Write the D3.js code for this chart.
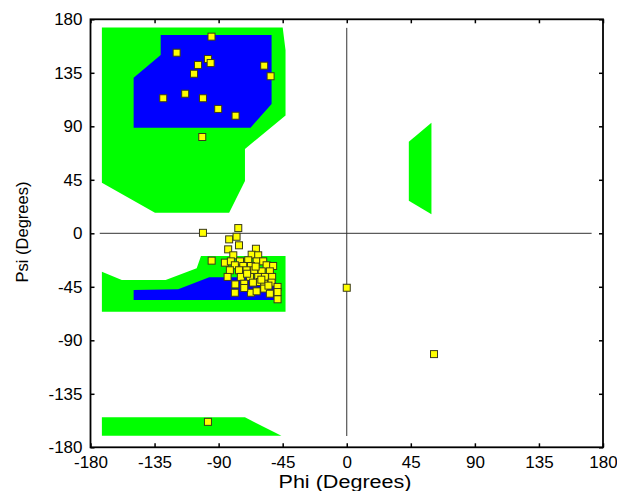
<!DOCTYPE html>
<html><head><meta charset="utf-8">
<script src="https://cdn.jsdelivr.net/npm/d3@7"></script>
<style>body{margin:0;background:#fff}svg{display:block}text{font-family:"Liberation Sans",Arial,sans-serif;fill:#000}</style>
</head><body><svg id="c" width="617" height="491"></svg>
<script>
const tickValues = [-180,-135,-90,-45,0,45,90,135,180];
const xLabel = "Phi (Degrees)";
const yLabel = "Psi (Degrees)";

// Allowed regions [phi, psi]
const greenTop = [[-172,173],[-45,173],[-43,154],[-43,99],[-71.5,71],[-71.5,44],[-82.6,17.3],[-134.7,17.3],[-172,42.6]];
const blueTop = [[-130.7,166.8],[-52.8,166.8],[-52.8,108.8],[-67.6,88.8],[-149.7,88.8],[-149.7,130.9],[-130.7,150]];
const greenRight = [[43.6,77],[59.5,93],[59.5,16],[43.6,27.4]];
const greenMid = [[-102.4,-19.1],[-43,-19.1],[-43,-65.9],[-172,-65.9],[-172,-32.3],[-158,-39.3],[-127.2,-39.3],[-105.4,-29.4]];
const blueMid = [[-149.7,-47.7],[-118.4,-47.1],[-96.6,-37],[-52,-37],[-48,-45],[-48,-56],[-149.7,-56]];
const greenBottom = [[-172,-154.8],[-71.5,-154.8],[-45.9,-170.2],[-172,-170.2]];

// Residues [phi, psi]
const residues = [
 [-95,165.4],[-119.5,151.9],[-97.5,146.6],[-95.6,143.2],[-104.5,141.6],[-107.3,134.2],[-58,141],[-53.5,132.1],
 [-128.9,113.6],[-113.5,117.4],[-101,113.6],[-90.3,104.6],[-78.1,98.9],[-101.5,81],
 [-101,0.4],[0,-45.8],[61.3,-101.6],[-97.5,-158.6],[-94.9,-23],
 [-76.2,4.4],[-82.6,-5.1],[-77.4,-2.9],[-75.7,-10.1],[-83.3,-13.5],[-63.8,-13],[-79.7,-18.5],[-66.8,-18],[-62.2,-18.5],
 [-85.6,-24.7],[-81.4,-23.6],[-75,-23.6],[-69.2,-22.7],[-63.3,-23.6],[-58.7,-23.6],
 [-78.6,-26.9],[-72.7,-27.5],[-67.3,-27.5],[-56.3,-26.9],[-51.7,-27.5],
 [-82.1,-31.1],[-75.7,-31.1],[-70.4,-31.1],[-65,-31.1],[-59.8,-32],[-54,-32],
 [-83.7,-36.7],[-74.4,-36.7],[-68,-36.7],[-62.2,-36.7],[-57.5,-36.7],[-52.4,-36.7],
 [-78.3,-43],[-72,-42.4],[-65.8,-41.5],[-61,-41],[-58,-42.4],[-52.8,-41.5],[-48.6,-45.1],
 [-78.6,-50],[-67.3,-50],[-63.3,-48.8],[-58,-46.5],[-54,-50.8],[-48.6,-49.4],[-48.6,-55.5],
 [-70,-34],[-64,-28],[-60,-39],[-72,-46],[-55,-44]
];

const L=90.5,R=603,T=19.3,B=447.3;
const x=d3.scaleLinear().domain([-180,180]).range([L,R]);
const y=d3.scaleLinear().domain([-180,180]).range([B,T]);
const svg=d3.select("#c");
const line=d3.line().x(d=>x(d[0])).y(d=>y(d[1])).curve(d3.curveLinearClosed);

const regions=[[greenTop,"#00ff00"],[blueTop,"#0000ff"],[greenRight,"#00ff00"],[greenMid,"#00ff00"],[blueMid,"#0000ff"],[greenBottom,"#00ff00"]];
svg.append("g").selectAll("path").data(regions).join("path").attr("d",d=>line(d[0])).attr("fill",d=>d[1]);

// zero lines
svg.append("line").attr("x1",x(-173.5)).attr("x2",x(172)).attr("y1",y(0)).attr("y2",y(0)).attr("stroke","#333").attr("stroke-width",1);
svg.append("line").attr("x1",x(0)).attr("x2",x(0)).attr("y1",y(172.8)).attr("y2",y(-170.5)).attr("stroke","#333").attr("stroke-width",1);

// axes
const fmt=d=>String(d).replace("-","-");
svg.append("g").attr("transform",`translate(0,${B})`).call(d3.axisBottom(x).tickValues(tickValues).tickSize(-4).tickPadding(9).tickFormat(fmt))
 .call(g=>{g.select(".domain").remove();g.selectAll("text").attr("font-size",17).attr("font-family","Liberation Sans, Arial, sans-serif").attr("dy","0.71em");});
svg.append("g").attr("transform",`translate(${L},0)`).call(d3.axisLeft(y).tickValues(tickValues).tickSize(-4).tickPadding(8).tickFormat(fmt))
 .call(g=>{g.select(".domain").remove();g.selectAll("text").attr("font-size",17).attr("font-family","Liberation Sans, Arial, sans-serif");});
svg.append("g").attr("transform",`translate(0,${T})`).call(d3.axisTop(x).tickValues(tickValues).tickSize(-4).tickFormat(""))
 .call(g=>g.select(".domain").remove());
svg.append("g").attr("transform",`translate(${R},0)`).call(d3.axisRight(y).tickValues(tickValues).tickSize(-4).tickFormat(""))
 .call(g=>g.select(".domain").remove());
svg.selectAll(".tick line").attr("stroke","#000").attr("stroke-width",1.5);
svg.append("rect").attr("x",L).attr("y",T).attr("width",R-L).attr("height",B-T).attr("fill","none").attr("stroke","#000").attr("stroke-width",1.8);

// points
svg.append("g").selectAll("rect").data(residues).join("rect")
 .attr("x",d=>x(d[0])-3.5).attr("y",d=>y(d[1])-3.5).attr("width",7).attr("height",7)
 .attr("fill","#ffff00").attr("stroke","#3a3a1a").attr("stroke-width",1);

// labels
svg.append("text").attr("x",345).attr("y",488).attr("text-anchor","middle").attr("font-size",18)
 .attr("textLength",133).attr("lengthAdjust","spacingAndGlyphs").text(xLabel);
svg.append("text").attr("transform","translate(28,232) rotate(-90)").attr("text-anchor","middle").attr("font-size",16.5).text(yLabel);
</script></body></html>
